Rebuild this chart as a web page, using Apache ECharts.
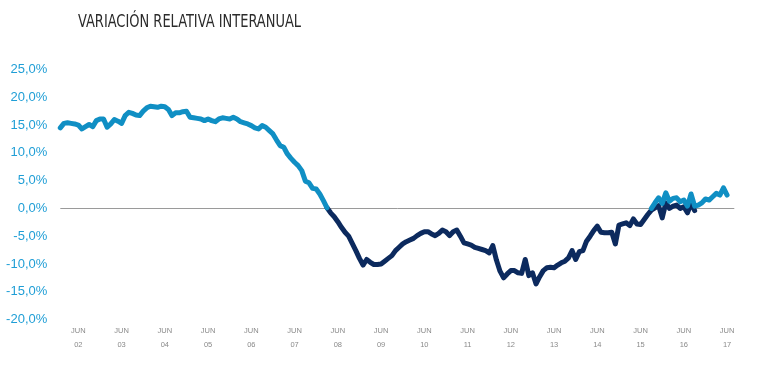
<!DOCTYPE html>
<html>
<head>
<meta charset="utf-8">
<script src="https://cdn.jsdelivr.net/npm/echarts@6/dist/echarts.min.js"></script>
<style>html,body{margin:0;padding:0;background:#fff}#c{width:760px;height:380px}</style>
</head>
<body>
<div id="c"></div>
<script>
// Monthly categories Jan 2002 .. Aug 2017
const years = ['02','03','04','05','06','07','08','09','10','11','12','13','14','15','16','17'];
const monthNames = ['ENE','FEB','MAR','ABR','MAY','JUN','JUL','AGO','SEP','OCT','NOV','DIC'];
const categories = [];
years.forEach(y => monthNames.forEach(m => categories.push(m + ' ' + y)));
categories.length = 188; // up to AGO 17

// Positive phases (light blue): Jan 2002 .. Mar 2008, Sep 2015 .. Jun 2017
const lightEarly = [
  14.5,15.3,15.4,15.3,15.2,15.0,14.3,14.7,15.1,14.7,15.8,16.1,
  16.1,14.6,15.2,16.0,15.7,15.3,16.7,17.3,17.1,16.8,16.7,17.5,
  18.1,18.4,18.3,18.2,18.4,18.3,17.8,16.7,17.2,17.2,17.4,17.5,
  16.4,16.3,16.2,16.1,15.8,16.1,15.8,15.6,16.1,16.3,16.2,16.1,
  16.4,16.1,15.6,15.4,15.2,14.9,14.5,14.3,14.9,14.6,14.0,13.4,
  12.3,11.3,11.0,9.8,9.0,8.3,7.7,6.8,4.9,4.6,3.6,3.5,
  2.6,1.4,0.1
];
const lightLate = [
  0.0,1.0,1.9,0.9,2.8,1.3,1.8,1.9,1.2,1.5,0.4,2.6,
  0.4,0.6,1.0,1.7,1.5,2.1,2.7,2.4,3.7,2.4
];
const lightLateStart = 164;

// Negative phase (dark navy): Mar 2008 .. May 2016
const darkValues = [
  0.1,-0.8,-1.5,-2.4,-3.4,-4.3,-5.0,-6.3,-7.6,-9.0,
  -10.2,-9.2,-9.7,-10.1,-10.1,-10.0,-9.5,-9.0,-8.5,-7.6,-7.0,-6.4,
  -6.0,-5.7,-5.4,-4.9,-4.5,-4.2,-4.2,-4.6,-4.9,-4.5,-3.9,-4.2,
  -4.9,-4.2,-3.9,-5.0,-6.2,-6.4,-6.6,-7.0,-7.2,-7.4,-7.6,-8.0,
  -6.7,-9.3,-11.3,-12.5,-11.8,-11.2,-11.2,-11.6,-11.7,-9.2,-12.1,-11.6,
  -13.6,-12.3,-11.2,-10.7,-10.6,-10.7,-10.2,-9.8,-9.5,-8.9,-7.6,-9.2,
  -7.8,-7.6,-5.9,-5.0,-4.0,-3.2,-4.3,-4.4,-4.4,-4.3,-6.4,-3.0,
  -2.8,-2.6,-3.1,-1.9,-2.8,-2.9,-2.0,-1.1,-0.3,0.1,0.5,-1.7,
  1.0,0.0,0.4,0.6,0.0,0.3,-0.8,0.9,-0.4
];
const darkStart = 74;

const yTicks = [-20, -15, -10, -5, 0, 5, 10, 15, 20, 25];

function place(values, start) {
  const arr = new Array(categories.length).fill(null);
  values.forEach((v, i) => { arr[start + i] = v; });
  return arr;
}
const lightData = place(lightEarly, 0);
lightLate.forEach((v, i) => { lightData[lightLateStart + i] = v; });
const darkData = place(darkValues, darkStart);

const chart = echarts.init(document.getElementById('c'), null, {renderer: 'canvas'});
chart.setOption({
  animation: false,
  backgroundColor: '#ffffff',
  graphic: [{
    type: 'text', x: 78, y: 14, scaleX: 0.85,
    style: {text: 'VARIACIÓN RELATIVA INTERANUAL', font: '17px "Liberation Sans Narrow", "DejaVu Sans Condensed", sans-serif', fill: '#2b2b2b'}
  }],
  grid: {left: 60.3, right: 25.7, top: 69.5, bottom: 60.5, containLabel: false},
  xAxis: {
    type: 'category', data: categories, boundaryGap: false,
    axisLine: {show: false, onZero: false}, axisTick: {show: false}, splitLine: {show: false},
    axisLabel: {
      interval: (i) => i % 12 === 5,
      formatter: (v) => 'JUN\n' + v.split(' ')[1],
      color: '#8a8a8a', fontSize: 7.5, lineHeight: 14, margin: 4,
      fontFamily: '"Liberation Sans", Arial, sans-serif'
    }
  },
  yAxis: {
    type: 'value', min: yTicks[0], max: yTicks[yTicks.length - 1], interval: 5,
    axisLine: {show: false}, axisTick: {show: false}, splitLine: {show: false},
    axisLabel: {
      formatter: (v) => v.toFixed(1).replace('.', ',') + '%',
      color: '#1f9ed6', fontSize: 13, margin: 13,
      fontFamily: '"Liberation Sans", Arial, sans-serif'
    }
  },
  series: [
    {
      name: 'neg', type: 'line', data: darkData, showSymbol: false, connectNulls: false, z: 2,
      lineStyle: {color: '#0c2a5e', width: 5, cap: 'round', join: 'round'},
      markLine: {
        silent: true, symbol: 'none', label: {show: false},
        lineStyle: {color: '#9a9a9a', width: 1, type: 'solid'},
        data: [{yAxis: 0}], z: 1
      }
    },
    {
      name: 'pos', type: 'line', data: lightData, showSymbol: false, connectNulls: false, z: 3,
      lineStyle: {color: '#108fc4', width: 5, cap: 'round', join: 'round'}
    }
  ]
});
</script>
</body>
</html>
